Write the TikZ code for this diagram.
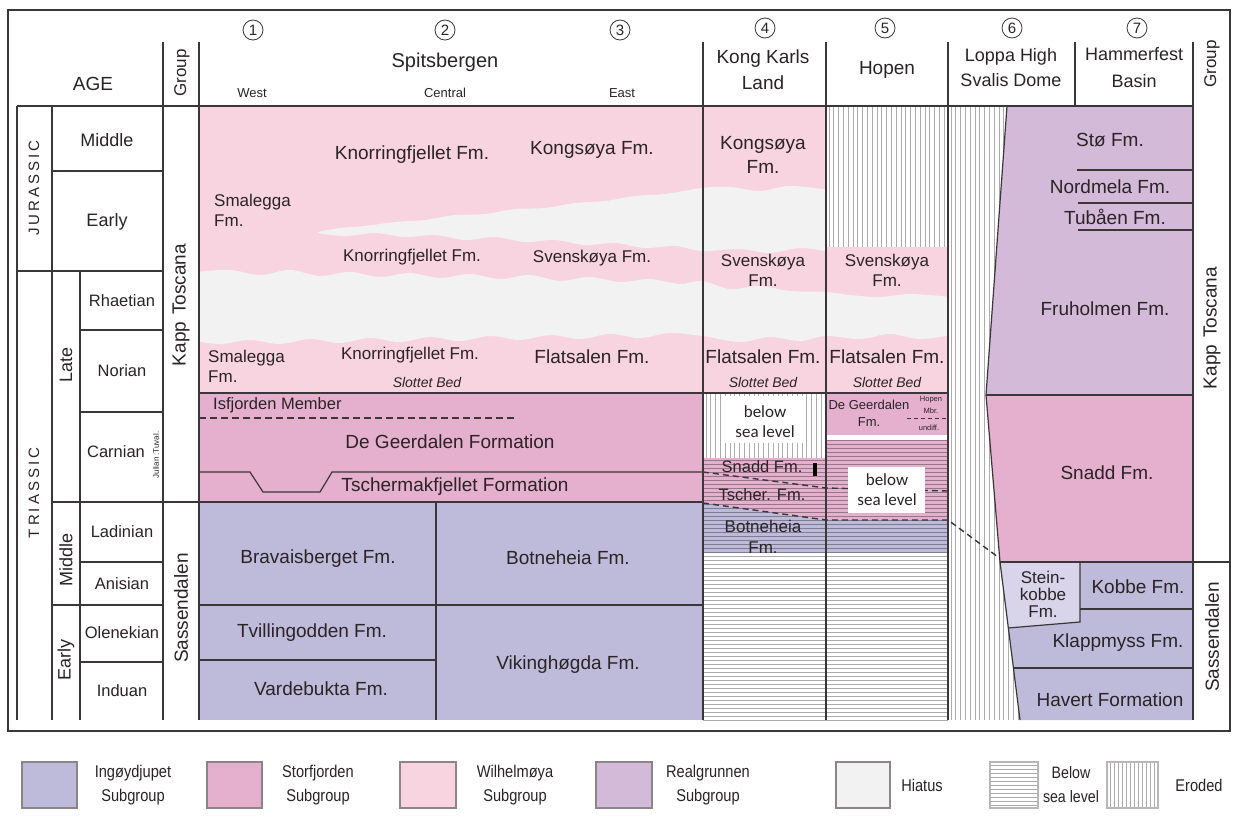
\documentclass[tikz,border=0pt]{standalone}
\usepackage{fontspec}
\setmainfont{Liberation Sans}
\newfontfamily\carlfont{Carlito}
\newfontfamily\narrowfont[FakeStretch=0.86]{Liberation Sans}
\newcommand\fsz[2]{\fontsize{#1}{#2}\selectfont}
\definecolor{ingo}{HTML}{BEBADA}
\definecolor{stor}{HTML}{E4B0CD}
\definecolor{wilh}{HTML}{F8D4E1}
\definecolor{real}{HTML}{D3BAD8}
\definecolor{hiat}{HTML}{F3F2F2}
\definecolor{stein}{HTML}{D8D4EA}
\definecolor{lnc}{HTML}{3C3638}
\definecolor{txtc}{HTML}{2B2326}
\definecolor{legc}{HTML}{8C8487}
\tikzset{
  ln/.style={draw=lnc, line width=1.2pt},
  dsh/.style={draw=lnc, line width=1.4pt, dash pattern=on 6pt off 4pt},
  hat/.style={draw=black, draw opacity=0.33, line width=0.8pt},
  tx/.style={inner sep=0pt, text=txtc, align=center, font=\fsz{19}{22}},
  txm/.style={inner sep=0pt, text=txtc, align=center, font=\fsz{17}{20}},
  txa/.style={inner sep=0pt, text=txtc, align=center, font=\fsz{16.5}{19}},
  txs/.style={inner sep=0pt, text=txtc, align=center, font=\fsz{14}{16}},
  slb/.style={inner sep=0pt, text=txtc, align=center, font=\fsz{14}{16}\itshape},
  bsl/.style={inner sep=0pt, text=txtc, align=center, font=\carlfont\fsz{17}{20}},
  numc/.style={circle, draw=lnc, line width=0.8pt, minimum size=20pt, inner sep=0pt, text=txtc, font=\fsz{15}{15}},
  legbox/.style={draw=legc, line width=1.3pt},
  legt/.style={inner sep=0pt, text=txtc, align=center, font=\narrowfont\fsz{17}{24}},
}
\begin{document}
\begin{tikzpicture}[x=1pt,y=-1pt]
\useasboundingbox (0,0) rectangle (1234,819);
\fill[white] (0,0) rectangle (1234,819);

% ---------- Spitsbergen fills
\fill[wilh] (199,106) rectangle (702,393);
\fill[stor] (199,393) rectangle (702,502);
\fill[ingo] (199,502) rectangle (702,720);
% ---------- Kong Karls Land fills
\fill[wilh] (703,106) rectangle (826,393);
\foreach \x in {706,710.8,...,825} \draw[hat] (\x,394)--(\x,458);
\fill[stor] (703,458)--(826,458)--(826,520)--(703,503)--cycle;
\fill[ingo] (703,503)--(826,520)--(826,553)--(703,553)--cycle;
% ---------- Hopen fills
\foreach \x in {829,833.8,...,947} \draw[hat] (\x,107)--(\x,247);
\fill[wilh] (826,247) rectangle (948,393);
\fill[stor] (826,393) rectangle (948,435);
\fill[stor] (826,440) rectangle (948,520);
\fill[ingo] (826,520) rectangle (948,553);
% below sea level hatch
\foreach \y in {460,464,...,720} \draw[hat] (703,\y)--(826,\y);
\foreach \y in {440,444,...,720} \draw[hat] (826,\y)--(948,\y);
% ---------- Loppa eroded strip
\begin{scope}
\clip (948,106)--(1007,106)--(986,395)--(1000,562)--(1020,720)--(948,720)--cycle;
\foreach \x in {951,955.8,...,1022} \draw[hat] (\x,106)--(\x,720);
\end{scope}
% ---------- Hammerfest fills
\fill[real] (1007,106)--(1193,106)--(1193,395)--(986,395)--cycle;
\fill[stor] (986,395)--(1193,395)--(1193,562)--(1000,562)--cycle;
\fill[ingo] (1000,562)--(1193,562)--(1193,720)--(1020,720)--cycle;
\fill[stein] (1000,562)--(1080,562)--(1080,622)--(1008,628)--cycle;

% ---------- hiatus bands
\begin{scope}
\clip (199,106) rectangle (826,393);
\fill[hiat] plot[smooth, tension=0.6] coordinates {(318,232) (340,228) (365,226) (395,222) (425,220) (455,215) (485,214) (515,209) (545,208) (575,203) (605,201) (635,196) (665,194) (702,188) (730,187) (760,191) (790,186) (830,190)}
  -- plot[smooth, tension=0.6] coordinates {(830,252) (800,248) (770,253) (740,249) (702,251) (675,246) (645,248) (615,243) (585,245) (555,240) (525,242) (495,237) (465,240) (435,235) (405,237) (375,233) (345,236) (318,233)} -- cycle;
\end{scope}
\begin{scope}
\clip (199,106) rectangle (948,393);
\fill[hiat] plot[smooth, tension=0.6] coordinates {(195,272) (230,270) (260,275) (290,270) (320,276) (350,272) (380,277) (410,273) (440,278) (470,274) (500,279) (530,275) (560,281) (590,277) (620,282) (650,279) (680,284) (702,281) (730,289) (760,286) (790,291) (826,292) (850,295) (880,297) (910,294) (952,297)}
  -- plot[smooth, tension=0.6] coordinates {(952,335) (920,339) (890,334) (860,339) (826,336) (800,341) (770,337) (740,342) (702,336) (670,333) (640,338) (610,334) (580,339) (550,335) (520,340) (490,336) (460,341) (430,337) (400,342) (370,338) (340,343) (310,339) (280,344) (250,340) (220,344) (195,341)} -- cycle;
\end{scope}

% ---------- dashed correlation lines
\draw[dsh] (703,472)--(826,488)--(948,491);
\draw[dsh] (703,503)--(826,520)--(948,520)--(998,557);
\draw[lnc, line width=1.1pt, dash pattern=on 7pt off 4pt] (199,418)--(515,418);
\draw[lnc, line width=1pt, dash pattern=on 4pt off 3pt] (907,418)--(948,418);
% white boxes
\fill[white] (725,396) rectangle (805,443);
\fill[white] (848,467) rectangle (925,513);
\fill[white] (826,435) rectangle (948,440);
\fill[black] (813,463) rectangle (817,476);

% ---------- frame and grid lines
\draw[ln] (8,10) rectangle (1230,731);
\draw[ln] (17,106)--(1193,106);
\draw[ln] (17,106)--(17,720);
\draw[ln] (52,106)--(52,720);
\draw[ln] (80,271)--(80,720);
\draw[ln] (163,42)--(163,720);
\draw[ln] (199,42)--(199,720);
\draw[ln] (703,42)--(703,720);
\draw[ln] (826,42)--(826,720);
\draw[ln] (948,42)--(948,720);
\draw[ln] (1075,42)--(1075,106);
\draw[ln] (1193,42)--(1193,720);
% age column
\draw[ln] (52,171)--(163,171);
\draw[ln] (17,271)--(163,271);
\draw[ln] (80,330)--(163,330);
\draw[ln] (80,412)--(163,412);
\draw[ln] (52,502)--(199,502);
\draw[ln] (80,562)--(163,562);
\draw[ln] (52,605)--(163,605);
\draw[ln] (80,662)--(163,662);
% Spitsbergen
\draw[ln] (199,393)--(948,393);
\draw[ln] (199,472)--(250,472)--(263,492)--(320,492)--(332,472)--(702,472);
\draw[ln] (199,502)--(702,502);
\draw[ln] (436,502)--(436,720);
\draw[ln] (199,605)--(702,605);
\draw[ln] (199,660)--(436,660);
% Hammerfest
\draw[ln] (1007,106)--(986,395)--(1000,562)--(1020,720);
\draw[ln] (1077,170)--(1193,170);
\draw[ln] (1078,203)--(1193,203);
\draw[ln] (1078,230)--(1193,230);
\draw[ln] (986,395)--(1193,395);
\draw[ln] (1000,562)--(1230,562);
\draw[ln] (1080,562)--(1080,622)--(1008,628);
\draw[ln] (1080,609)--(1193,609);
\draw[ln] (1014,668)--(1193,668);

% ---------- header
\node[tx] (age) at (93,84) {AGE};
\node[txm, rotate=90] (grpL) at (182,73) {Group};
\node[tx, font=\fsz{20}{22}] (spits) at (445,62) {Spitsbergen};
\node[txs, font=\fsz{13}{15}] (west) at (252,93) {West};
\node[txs, font=\fsz{13}{15}] (central) at (445,93) {Central};
\node[txs, font=\fsz{13}{15}] (east) at (622,93) {East};
\node[tx, font=\fsz{19}{26}] (kkl) at (763,70) {Kong Karls\\Land};
\node[tx] (hopen) at (887,70) {Hopen};
\node[tx, font=\fsz{18}{25}] (loppa) at (1011,68) {Loppa High\\Svalis Dome};
\node[tx, font=\fsz{18}{27}] (hamm) at (1134,68) {Hammerfest\\Basin};
\node[txm, rotate=90] (grpR) at (1212,64) {Group};
\node[numc] (n1) at (253,30) {1};
\node[numc] (n2) at (445,30) {2};
\node[numc] (n3) at (620,30) {3};
\node[numc] (n4) at (765,28) {4};
\node[numc] (n5) at (885,28) {5};
\node[numc] (n6) at (1012,28) {6};
\node[numc] (n7) at (1137,28) {7};

% ---------- age column
\node[txs, font=\fsz{15}{15}, rotate=90] (jur) at (34,188) {J\hspace{3pt}U\hspace{3pt}R\hspace{3pt}A\hspace{3pt}S\hspace{3pt}S\hspace{3pt}I\hspace{3pt}C};
\node[txs, font=\fsz{15}{15}, rotate=90] (tri) at (34,493) {T\hspace{3pt}R\hspace{3pt}I\hspace{3pt}A\hspace{3pt}S\hspace{3pt}S\hspace{3pt}I\hspace{3pt}C};
\node[txm, font=\fsz{18}{20}] (jmid) at (107,140) {Middle};
\node[txm, font=\fsz{18}{20}] (jear) at (107,222) {Early};
\node[txm, font=\fsz{18}{20}, rotate=90] (late) at (66,365) {Late};
\node[txm, font=\fsz{18}{20}, rotate=90] (tmid) at (66,560) {Middle};
\node[txm, font=\fsz{18}{20}, rotate=90] (tear) at (66,660) {Early};
\node[txa] (rhae) at (122,301) {Rhaetian};
\node[txa] (nori) at (122,371) {Norian};
\node[txa] (carn) at (116,452) {Carnian};
\node[inner sep=0pt, text=txtc, font=\fsz{8}{8}, rotate=90] (jtuv) at (156,455) {Julian :Tuval.};
\node[txa] (ladi) at (122,532) {Ladinian};
\node[txa] (anis) at (122,584) {Anisian};
\node[txa] (olen) at (122,633) {Olenekian};
\node[txa] (indu) at (122,691) {Induan};
\node[tx, rotate=90] (ktL) at (181,305) {Kapp\hspace{7pt}Toscana};
\node[tx, rotate=90] (sasL) at (181,608) {Sassendalen};

% ---------- Spitsbergen texts
\node[tx] (kn1) at (412,155) {Knorringfjellet Fm.};
\node[tx] (ko1) at (592,150) {Kongsøya Fm.};
\node[txm, align=left, anchor=west] (sm1) at (214,210) {Smalegga\\Fm.};
\node[txm] (kn2) at (412,257) {Knorringfjellet Fm.};
\node[txm] (sv1) at (592,258) {Svenskøya Fm.};
\node[txm, align=left, anchor=west] (sm2) at (208,366) {Smalegga\\Fm.};
\node[txm] (kn3) at (410,355) {Knorringfjellet Fm.};
\node[tx] (fl1) at (592,357) {Flatsalen Fm.};
\node[slb] (sb1) at (427,382) {Slottet Bed};
\node[txa, anchor=west] (isf) at (213,405) {Isfjorden Member};
\node[tx] (dgf) at (450,442) {De Geerdalen Formation};
\node[tx] (tsf) at (455,487) {Tschermakfjellet Formation};
\node[tx] (brv) at (318,559) {Bravaisberget Fm.};
\node[tx] (btn) at (568,558) {Botneheia Fm.};
\node[tx] (tvl) at (312,633) {Tvillingodden Fm.};
\node[tx] (vkg) at (568,665) {Vikinghøgda Fm.};
\node[tx] (vrd) at (321,689) {Vardebukta Fm.};

% ---------- Kong Karls Land texts
\node[tx, font=\fsz{19}{24}] (ko2) at (763,155) {Kongsøya\\Fm.};
\node[txm] (sv2) at (763,270) {Svenskøya\\Fm.};
\node[tx] (fl2) at (763,357) {Flatsalen Fm.};
\node[slb] (sb2) at (763,382) {Slottet Bed};
\node[bsl] (bs1) at (765,422) {below\\sea level};
\node[txa] (sn1) at (762,467) {Snadd Fm.};
\node[txa] (tsc) at (762,495) {Tscher. Fm.};
\node[txa, font=\fsz{17}{21}] (bo2) at (763,537) {Botneheia\\Fm.};

% ---------- Hopen texts
\node[txm] (sv3) at (887,270) {Svenskøya\\Fm.};
\node[tx] (fl3) at (887,357) {Flatsalen Fm.};
\node[slb] (sb3) at (887,382) {Slottet Bed};
\node[txs, font=\fsz{13}{17}] (dg2) at (869,413) {De Geerdalen\\Fm.};
\node[inner sep=0pt, text=txtc, align=center, font=\fsz{7.5}{12}] (hmb) at (931,405) {Hopen\\Mbr.};
\node[inner sep=0pt, text=txtc, font=\fsz{7.5}{8}] (und) at (929,428) {undiff.};
\node[bsl] (bs2) at (887,490) {below\\sea level};

% ---------- Hammerfest texts
\node[tx] (sto) at (1110,140) {Stø Fm.};
\node[tx] (nor) at (1110,187) {Nordmela Fm.};
\node[tx] (tub) at (1115,217) {Tubåen Fm.};
\node[tx] (fru) at (1105,309) {Fruholmen Fm.};
\node[tx] (snd) at (1107,473) {Snadd Fm.};
\node[tx] (kob) at (1138,587) {Kobbe Fm.};
\node[txm, font=\fsz{17}{17}] (stk) at (1043,594) {Stein-\\kobbe\\Fm.};
\node[tx] (klp) at (1118,643) {Klappmyss Fm.};
\node[tx] (hav) at (1110,700) {Havert Formation};
\node[tx, rotate=90] (ktR) at (1212,328) {Kapp\hspace{7pt}Toscana};
\node[tx, rotate=90] (sasR) at (1212,637) {Sassendalen};

% ---------- legend
\draw[legbox, fill=ingo] (22,762) rectangle (77,808);
\node[legt] (l1) at (133,785) {Ingøydjupet\\Subgroup};
\draw[legbox, fill=stor] (207,762) rectangle (262,808);
\node[legt] (l2) at (318,785) {Storfjorden\\Subgroup};
\draw[legbox, fill=wilh] (400,762) rectangle (456,808);
\node[legt] (l3) at (515,785) {Wilhelmøya\\Subgroup};
\draw[legbox, fill=real] (596,762) rectangle (652,808);
\node[legt] (l4) at (708,785) {Realgrunnen\\Subgroup};
\draw[legbox, fill=hiat] (836,762) rectangle (890,808);
\node[legt] (l5) at (922,785) {Hiatus};
\foreach \y in {765,769,...,806} \draw[hat] (990,\y)--(1038,\y);
\draw[legbox, draw=legc!60] (990,762) rectangle (1038,808);
\node[legt, font=\narrowfont\fsz{16.5}{24}] (l6) at (1071,785) {Below\\sea level};
\foreach \x in {1110,1114,...,1156} \draw[hat] (\x,762)--(\x,808);
\draw[legbox, draw=legc!60] (1107,762) rectangle (1158,808);
\node[legt] (l7) at (1199,785) {Eroded};
\end{tikzpicture}
\end{document}
